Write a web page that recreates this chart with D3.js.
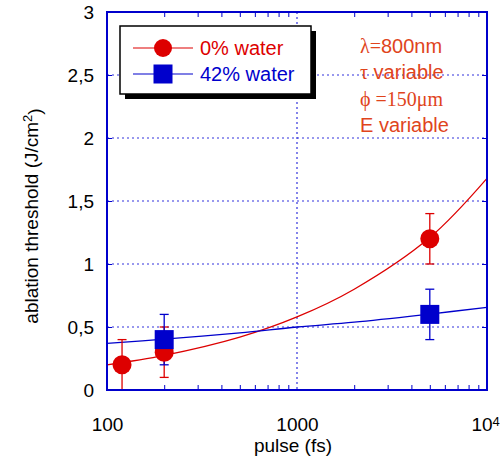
<!DOCTYPE html>
<html>
<head>
<meta charset="utf-8">
<script src="https://cdn.jsdelivr.net/npm/d3@7"></script>
<style>
body{margin:0;background:#fff;}
text{font-family:"Liberation Sans",Arial,sans-serif;}
</style>
</head>
<body>
<div id="chart"></div>
<script>
// data
var pulse0=[120,200,5000];
var water0=[0.2,0.3,1.2];
var water0Err=[0.2,0.2,0.2];
var pulse42=[200,5000];
var water42=[0.4,0.6];
var water42Err=[0.2,0.2];
// fitted curves
var fitPulse=[100,200,500,1000,2000,5000,10000];
var fit0=[0.2,0.275,0.42,0.58,0.8,1.21,1.68];
var fit42=[0.37,0.403,0.453,0.5,0.538,0.603,0.656];
var xTicks=[100,1000,10000];
var xMinor=[200,300,400,500,600,700,800,900,2000,3000,4000,5000,6000,7000,8000,9000];
var yTicks=[0,0.5,1,1.5,2,2.5,3];
var legendNames=["0% water","42% water"];
var notes=[["λ=","800nm"],["τ"," variable"],["ϕ =150μm",""],["","E variable"]];

var W=501,H=459;
var margins={l:107,t:12,r:14,b:69};
var w=W-margins.l-margins.r,h=H-margins.t-margins.b;
var RED="#dd0000",BLUE="#0000cc",NOTE="#e0441c";

var svg=d3.select("#chart").append("svg").attr("width",W).attr("height",H);
var g=svg.append("g").attr("transform","translate("+margins.l+","+margins.t+")");

var x=d3.scaleLog().domain([100,10000]).range([0,w]);
var y=d3.scaleLinear().domain([0,3]).range([h,0]);

svg.append("clipPath").attr("id","clip").append("rect").attr("width",w).attr("height",h);

// grid
g.selectAll(".gy").data(yTicks.slice(1,-1)).enter().append("line")
    .attr("x1",0).attr("x2",w).attr("y1",function(d){return y(d)}).attr("y2",function(d){return y(d)})
    .attr("stroke","#3333dd").attr("stroke-width",1.2).attr("stroke-dasharray","2,3");
g.append("line").attr("x1",x(1000)).attr("x2",x(1000)).attr("y1",0).attr("y2",h)
    .attr("stroke","#3333dd").attr("stroke-width",1.2).attr("stroke-dasharray","2,3");

// inward ticks
function noText(sel){sel.selectAll("text").remove();sel.select(".domain").remove();sel.selectAll("line").attr("stroke",BLUE);}
g.append("g").attr("transform","translate(0,"+h+")").call(d3.axisBottom(x).tickValues(xMinor).tickSize(-5)).call(noText);
g.append("g").call(d3.axisTop(x).tickValues(xMinor).tickSize(-5)).call(noText);
g.append("g").call(d3.axisLeft(y).tickValues(yTicks).tickSize(-5)).call(noText);
g.append("g").attr("transform","translate("+w+",0)").call(d3.axisRight(y).tickValues(yTicks).tickSize(-5)).call(noText);

// tick labels
var yl=g.append("g").call(d3.axisLeft(y).tickValues(yTicks).tickSize(0).tickPadding(13)
    .tickFormat(function(d){return String(d).replace(".",",")}));
yl.select(".domain").remove();
yl.selectAll("text").attr("font-size",19).attr("fill","#000").attr("font-family","Liberation Sans, Arial, sans-serif");
var xl=g.append("g").attr("transform","translate(0,"+h+")")
    .call(d3.axisBottom(x).tickValues(xTicks).tickSize(0).tickPadding(28).tickFormat(function(d){return d==10000?"10":String(d)}));
xl.select(".domain").remove();
xl.selectAll("text").attr("font-size",19).attr("fill","#000").attr("font-family","Liberation Sans, Arial, sans-serif");
xl.selectAll("text").filter(function(d){return d==10000}).attr("dx","-0.1em")
    .append("tspan").attr("dy","-0.45em").attr("font-size",13).text("4");

// axis titles
g.append("text").attr("x",w/2-4).attr("y",h+62).attr("text-anchor","middle").attr("font-size",19).text("pulse (fs)");
var yt=svg.append("text").attr("transform","translate(38,216) rotate(-90)").attr("text-anchor","middle").attr("font-size",19);
yt.append("tspan").text("ablation threshold (J/cm");
yt.append("tspan").attr("dy","-0.5em").attr("font-size",13).text("2");
yt.append("tspan").attr("dy","0.5em").text(")");

// fit curves
var plot=g.append("g").attr("clip-path","url(#clip)");
function addCurve(vals,color){
    var line=d3.line().curve(d3.curveCatmullRom)
        .x(function(d,i){return x(fitPulse[i])}).y(function(d){return y(d)});
    plot.append("path").datum(vals).attr("d",line).attr("fill","none").attr("stroke",color).attr("stroke-width",1.3);
}
addCurve(fit0,RED);
addCurve(fit42,BLUE);

// error bars + markers
function addErrors(px,py,pe,color){
    var eg=g.append("g").attr("stroke",color).attr("stroke-width",1.3);
    px.forEach(function(p,i){
        eg.append("line").attr("x1",x(p)).attr("x2",x(p)).attr("y1",y(py[i]-pe[i])).attr("y2",y(py[i]+pe[i]));
        [py[i]-pe[i],py[i]+pe[i]].forEach(function(v){
            eg.append("line").attr("x1",x(p)-4.5).attr("x2",x(p)+4.5).attr("y1",y(v)).attr("y2",y(v));
        });
    });
}
addErrors(pulse0,water0,water0Err,RED);
addErrors(pulse42,water42,water42Err,BLUE);
g.append("g").selectAll("circle").data(water0).enter().append("circle")
    .attr("cx",function(d,i){return x(pulse0[i])}).attr("cy",function(d){return y(d)}).attr("r",9.5).attr("fill",RED);
g.append("g").selectAll("rect").data(water42).enter().append("rect")
    .attr("x",function(d,i){return x(pulse42[i])-9.5}).attr("y",function(d){return y(d)-9.5})
    .attr("width",19).attr("height",19).attr("fill",BLUE);

// frame
g.append("rect").attr("width",w).attr("height",h).attr("fill","none").attr("stroke",BLUE).attr("stroke-width",2);

// legend
var lg=svg.append("g").attr("transform","translate(120,26)");
lg.append("rect").attr("x",5).attr("y",5).attr("width",191).attr("height",68).attr("fill","#000");
lg.append("rect").attr("width",191).attr("height",68).attr("fill","#fff").attr("stroke","#000").attr("stroke-width",1.5);
var colors=[RED,BLUE];
legendNames.forEach(function(name,i){
    var cy=22+i*26;
    lg.append("line").attr("x1",13).attr("x2",73).attr("y1",cy).attr("y2",cy).attr("stroke",colors[i]).attr("stroke-width",1.2);
    if(i==0) lg.append("circle").attr("cx",43).attr("cy",cy).attr("r",9).attr("fill",colors[i]);
    else lg.append("rect").attr("x",33.5).attr("y",cy-9.5).attr("width",19).attr("height",19).attr("fill",colors[i]);
    lg.append("text").attr("x",80).attr("y",cy+7).attr("font-size",20).attr("fill",colors[i]).text(name);
});

// annotation
notes.forEach(function(n,i){
    var t=svg.append("text").attr("x",360).attr("y",53+i*26.3).attr("font-size",20).attr("fill",NOTE);
    if(n[0]) t.append("tspan").attr("font-family","Liberation Serif, DejaVu Serif, serif").text(n[0]);
    if(n[1]) t.append("tspan").text(n[1]);
});
</script>
</body>
</html>
